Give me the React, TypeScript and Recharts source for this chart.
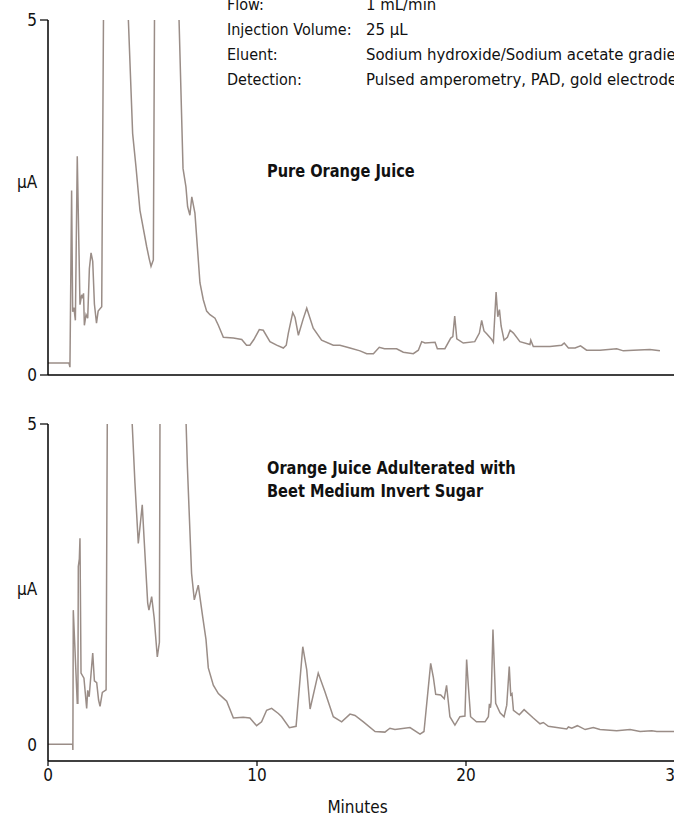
import { LineChart, Line, XAxis, YAxis } from 'recharts';

const TRACE = '#9a8d87';
const FONT = "'Liberation Sans Narrow', 'DejaVu Sans Condensed', Roboto, sans-serif";

// pure orange juice trace (minutes / µA)
const pureTime = [
  0, 1.0, 1.05, 1.13, 1.18, 1.24, 1.31, 1.4, 1.53, 1.61, 1.66, 1.7, 1.74, 1.82, 1.9, 1.98, 2.06, 2.14,
  2.22, 2.32, 2.4, 2.57, 2.66, 3.2, 3.82, 4.05, 4.21, 4.4, 4.72, 4.84, 4.93, 5.04, 5.1, 5.6, 6.27, 6.46,
  6.6, 6.68, 6.79, 6.88, 7.03, 7.27, 7.43, 7.59, 7.75, 7.99, 8.15, 8.39, 8.87, 9.27, 9.5, 9.66, 9.85,
  10.11, 10.3, 10.62, 10.94, 11.26, 11.4, 11.5, 11.71, 11.82, 11.98, 12.2, 12.38, 12.69, 13.09, 13.65,
  13.97, 14.45, 14.93, 15.25, 15.57, 15.85, 16.1, 16.68, 17.0, 17.48, 17.72, 17.88, 18.04, 18.52, 18.63,
  18.99, 19.27, 19.37, 19.46, 19.56, 19.87, 20.42, 20.64, 20.75, 20.86, 20.99, 21.23, 21.31, 21.44, 21.52,
  21.6, 21.68, 21.82, 21.98, 22.11, 22.27, 22.58, 23.06, 23.1, 23.22, 24.02, 24.58, 24.7, 24.9, 25.22,
  25.48, 25.77, 26.41, 27.21, 27.53, 28.01, 28.8, 29.28,
];
const pureUa = [
  0.17, 0.17, 0.11, 2.6, 0.89, 0.95, 0.77, 3.08, 0.99, 1.13, 1.08, 1.15, 0.7, 0.85, 0.8, 1.5, 1.72, 1.6,
  1.0, 0.73, 0.9, 0.96, 5.3, 30, 5.2, 3.4, 2.93, 2.32, 1.81, 1.64, 1.53, 1.62, 5.3, 30, 5.0, 2.91,
  2.65, 2.37, 2.25, 2.51, 2.28, 1.3, 1.06, 0.9, 0.85, 0.8, 0.7, 0.53, 0.52, 0.5, 0.42, 0.42, 0.5,
  0.64, 0.63, 0.47, 0.42, 0.38, 0.42, 0.59, 0.88, 0.81, 0.56, 0.78, 0.94, 0.66, 0.49, 0.42,
  0.42, 0.38, 0.34, 0.3, 0.3, 0.39, 0.37, 0.37, 0.32, 0.3, 0.35, 0.47, 0.45, 0.46, 0.37,
  0.37, 0.52, 0.54, 0.83, 0.51, 0.45, 0.47, 0.59, 0.77, 0.62, 0.58, 0.5, 0.46, 1.17, 0.82,
  0.92, 0.69, 0.49, 0.53, 0.63, 0.59, 0.47, 0.43, 0.49, 0.4, 0.4, 0.42, 0.45, 0.38, 0.38,
  0.41, 0.35, 0.35, 0.37, 0.34, 0.35, 0.36, 0.34,
];

// orange juice adulterated with beet medium invert sugar
const adultTime = [
  0, 1.18, 1.19, 1.21, 1.4, 1.43, 1.45, 1.5, 1.53, 1.58, 1.72, 1.85, 1.9, 1.97, 2.14, 2.22, 2.33, 2.42,
  2.49, 2.6, 2.78, 2.84, 3.4, 4.0, 4.16, 4.32, 4.51, 4.6, 4.77, 4.83, 4.96, 5.08, 5.23, 5.33, 5.36, 6.0,
  6.59, 6.67, 6.87, 7.0, 7.19, 7.4, 7.56, 7.67, 7.91, 8.15, 8.39, 8.55, 8.87, 9.34, 9.66, 9.98, 10.22,
  10.46, 10.7, 11.02, 11.18, 11.55, 11.87, 12.19, 12.38, 12.54, 12.93, 13.25, 13.65, 14.05, 14.45, 14.69,
  15.09, 15.65, 16.12, 16.36, 16.6, 17.32, 17.8, 17.99, 18.31, 18.44, 18.55, 18.79, 18.96, 19.07, 19.23,
  19.47, 19.71, 19.95, 20.03, 20.11, 20.22, 20.5, 20.91, 21.07, 21.12, 21.17, 21.2, 21.29, 21.42, 21.63,
  21.82, 21.95, 22.07, 22.14, 22.2, 22.27, 22.55, 22.78, 23.22, 23.54, 23.7, 23.94, 24.82, 24.9, 25.06,
  25.33, 25.7, 26.09, 26.41, 27.21, 27.85, 28.33, 28.89, 29.13, 30.0,
];
const adultUa = [
  0.01, 0.01, -0.08, 2.1, 0.65, 0.65, 2.78, 2.9, 3.22, 1.12, 1.04, 0.57, 0.85, 0.75, 1.43, 1.0, 0.97, 0.7,
  0.6, 0.82, 0.86, 5.3, 30, 5.2, 4.08, 3.14, 3.74, 3.2, 2.21, 2.1, 2.31, 1.98, 1.37, 1.6, 5.3, 30,
  5.2, 4.33, 2.67, 2.26, 2.49, 2.0, 1.64, 1.2, 0.93, 0.8, 0.73, 0.68, 0.42, 0.43, 0.42, 0.3, 0.36,
  0.54, 0.57, 0.49, 0.44, 0.27, 0.29, 1.53, 1.17, 0.56, 1.12, 0.83, 0.44, 0.36, 0.48, 0.46,
  0.36, 0.21, 0.2, 0.26, 0.24, 0.27, 0.17, 0.21, 1.27, 1.05, 0.79, 0.78, 0.72, 0.93, 0.44,
  0.31, 0.44, 0.45, 1.33, 0.93, 0.44, 0.36, 0.36, 0.44, 0.64, 0.58, 0.67, 1.8, 0.65, 0.5,
  0.44, 0.62, 1.22, 0.78, 0.8, 0.54, 0.47, 0.55, 0.42, 0.33, 0.35, 0.29, 0.25, 0.28, 0.26,
  0.3, 0.24, 0.27, 0.24, 0.22, 0.24, 0.21, 0.22, 0.21, 0.21,
];

const minuteTicks = [0, 10, 20, 30];
const pureUaTicks = [0, 5];
const adultUaTicks = [-0.25, 0, 5];

const conditionLabels = ['Flow:', 'Injection Volume:', 'Eluent:', 'Detection:'];
const conditionValues = [
  '1 mL/min',
  '25 µL',
  'Sodium hydroxide/Sodium acetate gradient',
  'Pulsed amperometry, PAD, gold electrode',
];

const pureData = pureTime.map((t, i) => ({ t, ua: pureUa[i] }));
const adultData = adultTime.map((t, i) => ({ t, ua: adultUa[i] }));

function UaTick(props: any) {
  const { x, y, payload, noLine, noLabel } = props;
  const v = payload.value;
  return (
    <g>
      {v !== noLine && <line x1={x + 3} x2={x + 11} y1={y} y2={y} stroke="#000" strokeWidth={1.2} />}
      {v !== noLabel && (
        <text x={x} y={y} dy={6} textAnchor="end" fontSize={17} fill="#111" fontFamily={FONT}>
          {v}
        </text>
      )}
    </g>
  );
}

const abs = (left: number, top: number): React.CSSProperties => ({
  position: 'absolute',
  left,
  top,
  whiteSpace: 'nowrap',
});

const boldLabel: React.CSSProperties = {
  fontSize: 18,
  fontWeight: 'bold',
  lineHeight: '23px',
  transform: 'scaleX(0.9)',
  transformOrigin: 'left top',
};

export default function App() {
  return (
    <div
      style={{
        position: 'fixed',
        left: 0,
        top: 0,
        width: 674,
        height: 817,
        overflow: 'hidden',
        background: '#fff',
        fontFamily: FONT,
        color: '#111',
      }}
    >
      <div style={abs(0, 0)}>
        <LineChart width={700} height={385} data={pureData} margin={{ top: 20, right: 25, bottom: 0, left: 0 }}>
          <XAxis
            type="number"
            dataKey="t"
            domain={[0, 30]}
            ticks={minuteTicks}
            tick={false}
            tickSize={5}
            height={10}
            axisLine={{ stroke: '#000', strokeWidth: 1.5 }}
            tickLine={{ stroke: '#000', strokeWidth: 1.2 }}
          />
          <YAxis
            type="number"
            domain={[0, 5]}
            ticks={pureUaTicks}
            allowDataOverflow
            width={48}
            tickSize={8}
            tickMargin={3}
            tickLine={false}
            axisLine={{ stroke: '#000', strokeWidth: 1.5 }}
            tick={(p: any) => <UaTick {...p} noLine={null} noLabel={null} />}
          />
          <Line type="linear" dataKey="ua" stroke={TRACE} strokeWidth={1.5} dot={false} isAnimationActive={false} />
        </LineChart>
      </div>

      <div style={abs(0, 404)}>
        <LineChart width={700} height={413} data={adultData} margin={{ top: 20, right: 25, bottom: 0, left: 0 }}>
          <XAxis
            type="number"
            dataKey="t"
            domain={[0, 30]}
            ticks={minuteTicks}
            tickSize={5}
            tickMargin={3}
            height={56}
            axisLine={{ stroke: '#000', strokeWidth: 1.5 }}
            tickLine={{ stroke: '#000', strokeWidth: 1.2 }}
            tick={{ fill: '#111', fontSize: 17, fontFamily: FONT }}
            label={{ value: 'Minutes', position: 'insideBottom', offset: 4, dx: -4, fill: '#111', fontSize: 17, fontFamily: FONT }}
          />
          <YAxis
            type="number"
            domain={[-0.25, 5]}
            ticks={adultUaTicks}
            allowDataOverflow
            width={48}
            tickSize={8}
            tickMargin={3}
            tickLine={false}
            axisLine={{ stroke: '#000', strokeWidth: 1.5 }}
            tick={(p: any) => <UaTick {...p} noLine={0} noLabel={-0.25} />}
          />
          <Line type="linear" dataKey="ua" stroke={TRACE} strokeWidth={1.5} dot={false} isAnimationActive={false} />
        </LineChart>
      </div>

      {/* run conditions */}
      {conditionLabels.map((label, i) => (
        <div key={label} style={{ ...abs(227, -5 + i * 25), fontSize: 16, lineHeight: '20px' }}>
          {label}
        </div>
      ))}
      {conditionValues.map((value, i) => (
        <div key={value} style={{ ...abs(366, -5 + i * 25), fontSize: 16.6, lineHeight: '20px' }}>
          {value}
        </div>
      ))}

      <div style={{ ...abs(17, 172), fontSize: 17 }}>µA</div>
      <div style={{ ...abs(17, 579), fontSize: 17 }}>µA</div>

      <div style={{ ...abs(267, 159), ...boldLabel }}>Pure Orange Juice</div>
      <div style={{ ...abs(267, 456), ...boldLabel }}>
        Orange Juice Adulterated with
        <br />
        Beet Medium Invert Sugar
      </div>
    </div>
  );
}
